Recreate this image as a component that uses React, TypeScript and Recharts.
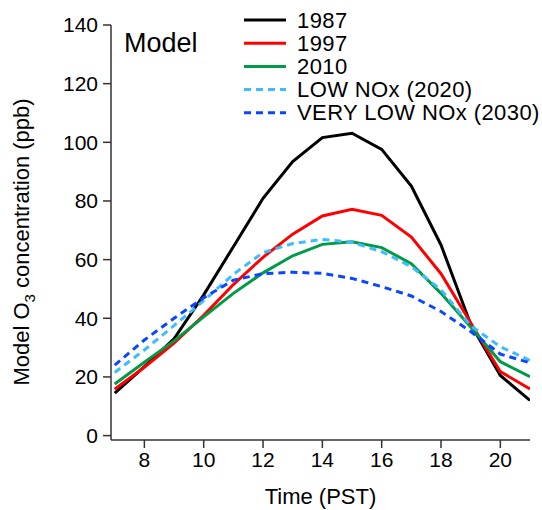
import { LineChart, Line, XAxis, YAxis } from 'recharts';

// hours (PST)
const hours = [7, 8, 9, 10, 11, 12, 13, 14, 15, 16, 17, 18, 19, 20, 21];

// model O3 (ppb) per hour
const o3_1987 = [14.5, 23.5, 33, 48, 64.4, 80.9, 93.4, 101.6, 103.1, 97.6, 85.1, 65, 38, 20.5, 12];
const o3_1997 = [15.8, 23.3, 31.5, 41, 51.5, 60.8, 68.7, 74.9, 77.2, 75.1, 67.7, 55.2, 38.5, 21.8, 15.9];
const o3_2010 = [17.6, 25, 32.3, 40.5, 48.5, 55.5, 61.3, 65.2, 66.1, 64.1, 58.6, 48.5, 37, 25.2, 20.1];
const o3_low2020 = [21.5, 29.2, 37.5, 46, 55, 62.4, 65.5, 66.9, 65.9, 62.7, 57.6, 49.7, 37.5, 30.3, 25.6];
const o3_vlow2030 = [24, 32.6, 40, 47, 53, 55.2, 55.7, 55.3, 53.6, 50.8, 47.6, 42.3, 35.5, 27.8, 24.8];

const xTicks = [8, 10, 12, 14, 16, 18, 20];
const yTicks = [0, 20, 40, 60, 80, 100, 120, 140];

const seriesList = [
  { key: 'y1987', name: '1987', values: o3_1987, color: '#000000', dash: undefined },
  { key: 'y1997', name: '1997', values: o3_1997, color: '#ff0000', dash: undefined },
  { key: 'y2010', name: '2010', values: o3_2010, color: '#009a48', dash: undefined },
  { key: 'low2020', name: 'LOW NOx (2020)', values: o3_low2020, color: '#3fbcff', dash: '7 5' },
  { key: 'vlow2030', name: 'VERY LOW NOx (2030)', values: o3_vlow2030, color: '#0a46ff', dash: '7 5' },
];

const data = hours.map((h, i) => {
  const row: any = { hour: h };
  seriesList.forEach((s) => {
    row[s.key] = s.values[i];
  });
  return row;
});

const FONT = '"Liberation Sans", Arial, Helvetica, sans-serif';
const AXIS = '#333333';

const YTitle = () => (
  <text
    x={0}
    y={0}
    transform="translate(29,242) rotate(-90)"
    textAnchor="middle"
    fontFamily={FONT}
    fontSize={22}
    fill="#000"
  >
    Model O
    <tspan fontSize={15} dy={6}>3</tspan>
    <tspan dy={-6}> concentration (ppb)</tspan>
  </text>
);

export default function App() {
  return (
    <div style={{ position: 'absolute', left: 0, top: 0, width: 542, height: 510, background: '#fff' }}>
      <LineChart width={542} height={510} data={data} margin={{ top: 25, right: 12, bottom: 0, left: 0 }}>
        <XAxis
          dataKey="hour"
          type="number"
          domain={[6.875, 21]}
          ticks={xTicks}
          allowDataOverflow
          stroke={AXIS}
          strokeWidth={1.5}
          tickSize={8}
          tickMargin={4}
          height={70}
          tick={{ fill: '#000', fontSize: 21, fontFamily: FONT }}
          label={{ value: 'Time (PST)', position: 'insideBottom', offset: 6, fill: '#000', fontSize: 22, fontFamily: FONT }}
        />
        <YAxis
          type="number"
          domain={[-1.5, 140]}
          ticks={yTicks}
          allowDataOverflow
          stroke={AXIS}
          strokeWidth={1.5}
          tickSize={8}
          tickMargin={5}
          width={111}
          tick={{ fill: '#000', fontSize: 21, fontFamily: FONT }}
          label={<YTitle />}
        />
        {seriesList.map((s) => (
          <Line
            key={s.key}
            type="linear"
            dataKey={s.key}
            name={s.name}
            stroke={s.color}
            strokeWidth={3}
            strokeDasharray={s.dash}
            dot={false}
            isAnimationActive={false}
          />
        ))}
      </LineChart>
      <svg
        width={542}
        height={140}
        style={{ position: 'absolute', left: 0, top: 0, pointerEvents: 'none' }}
      >
        <text x={124} y={52} fontFamily={FONT} fontSize={27} fill="#000">
          Model
        </text>
        {seriesList.map((s, i) => {
          const cy = 20 + i * 23.2;
          return (
            <g key={s.key}>
              <line
                x1={244}
                x2={286}
                y1={cy}
                y2={cy}
                stroke={s.color}
                strokeWidth={3}
                strokeDasharray={s.dash}
              />
              <text x={297} y={cy + 7.5} fontFamily={FONT} fontSize={22} letterSpacing={0.4} fill="#000">
                {s.name}
              </text>
            </g>
          );
        })}
      </svg>
    </div>
  );
}
